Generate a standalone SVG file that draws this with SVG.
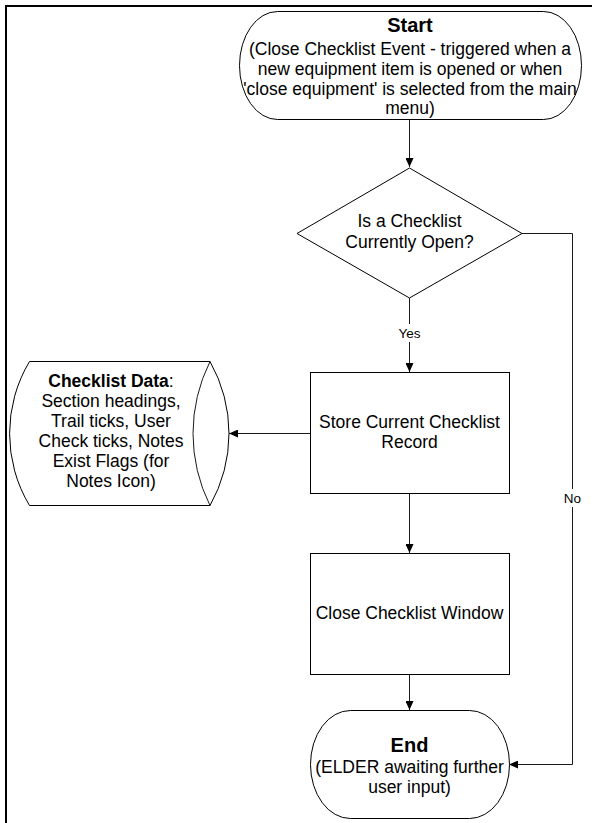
<svg xmlns="http://www.w3.org/2000/svg" width="592" height="823" viewBox="0 0 592 823">
  <style>
    .shape { fill: #fff; stroke: #000; stroke-width: 1; }
    .edge { fill: none; stroke: #1a1a1a; stroke-width: 1; }
    .txt { font-family: "Liberation Sans", Arial, sans-serif; font-size: 17.5px; fill: #000; text-anchor: middle; }
    .title { font-family: "Liberation Sans", Arial, sans-serif; font-size: 20px; font-weight: bold; fill: #000; text-anchor: middle; }
    .lbl { font-family: "Liberation Sans", Arial, sans-serif; font-size: 13.5px; fill: #000; text-anchor: middle; }
    .frame { fill: none; stroke: #000; stroke-width: 2; }
  </style>
  <defs>
    <marker id="arrow" markerWidth="9" markerHeight="8" refX="9" refY="4" orient="auto" markerUnits="userSpaceOnUse">
      <path d="M0,0 L9,4 L0,8 Z" fill="#000"/>
    </marker>
  </defs>

  <rect width="592" height="823" fill="#fff"/>

  <!-- page frame (top and left rules) -->
  <path class="frame" d="M6,823 V6 H592"/>

  <!-- connectors -->
  <g id="connectors">
    <path class="edge" d="M409.5,119 V167" marker-end="url(#arrow)"/>
    <path class="edge" d="M409.5,298 V372" marker-end="url(#arrow)"/>
    <path class="edge" d="M522,233.5 H572.5 V764.5 H509" marker-end="url(#arrow)"/>
    <path class="edge" d="M310,433.5 H229" marker-end="url(#arrow)"/>
    <path class="edge" d="M409.5,493 V553" marker-end="url(#arrow)"/>
    <path class="edge" d="M409.5,674 V710" marker-end="url(#arrow)"/>
    <rect x="395" y="324" width="30" height="18" fill="#fff"/>
    <text class="lbl" x="409.5" y="338">Yes</text>
    <rect x="562" y="489" width="21" height="18" fill="#fff"/>
    <text class="lbl" x="572.5" y="503">No</text>
  </g>

  <g id="start">
    <rect class="shape" x="239.5" y="11.5" width="342" height="108" rx="38" ry="54"/>
    <text class="title" x="410" y="32">Start</text>
    <text class="txt" x="410" y="55">(Close Checklist Event - triggered when a</text>
    <text class="txt" x="410" y="75">new equipment item is opened or when</text>
    <text class="txt" x="410" y="95">'close equipment' is selected from the main</text>
    <text class="txt" x="410" y="114">menu)</text>
  </g>

  <g id="decision">
    <path class="shape" d="M409.5,168 L522,233.5 L409.5,298 L297,233.5 Z"/>
    <text class="txt" x="409.5" y="227">Is a Checklist</text>
    <text class="txt" x="409.5" y="248">Currently Open?</text>
  </g>

  <g id="store-record">
    <rect class="shape" x="310.5" y="372.5" width="199" height="121"/>
    <text class="txt" x="409.5" y="428">Store Current Checklist</text>
    <text class="txt" x="409.5" y="448">Record</text>
  </g>

  <g id="checklist-data">
    <path class="shape" d="M29.5,361.5 H210 A146,146 0 0 1 210,505.5 H29.5 A140,140 0 0 1 29.5,361.5 Z"/>
    <path class="edge" d="M210,361.5 A161,161 0 0 0 210,505.5"/>
    <text class="txt" x="111" y="387"><tspan font-weight="bold">Checklist Data</tspan>:</text>
    <text class="txt" x="111" y="407">Section headings,</text>
    <text class="txt" x="111" y="427">Trail ticks, User</text>
    <text class="txt" x="111" y="447">Check ticks, Notes</text>
    <text class="txt" x="111" y="467">Exist Flags (for</text>
    <text class="txt" x="111" y="487">Notes Icon)</text>
  </g>

  <g id="close-window">
    <rect class="shape" x="310.5" y="553.5" width="199" height="121"/>
    <text class="txt" x="409.5" y="619">Close Checklist Window</text>
  </g>

  <g id="end">
    <rect class="shape" x="310.5" y="710.5" width="199" height="108" rx="40" ry="54"/>
    <text class="title" x="409.5" y="752">End</text>
    <text class="txt" x="409.5" y="773">(ELDER awaiting further</text>
    <text class="txt" x="409.5" y="793">user input)</text>
  </g>
</svg>
